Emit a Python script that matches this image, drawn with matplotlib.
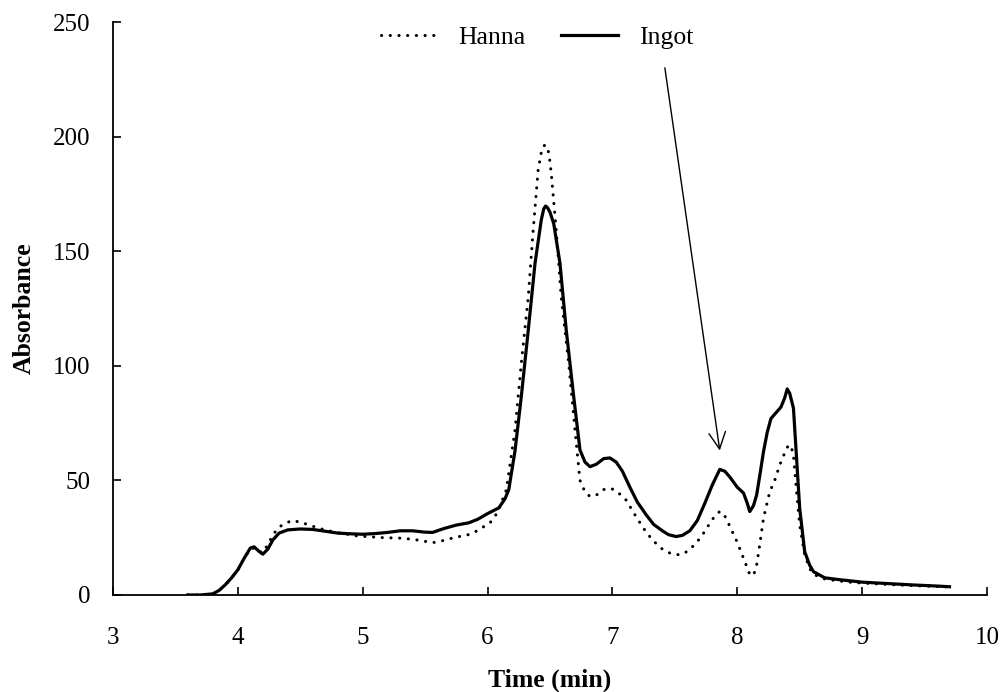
import matplotlib
matplotlib.use("Agg")
import matplotlib.pyplot as plt

# ---- data ----
time_hanna = [3.6, 3.7, 3.8, 3.85, 3.9, 3.95, 4.0, 4.05, 4.1, 4.13, 4.17, 4.2, 4.24, 4.29,
              4.34, 4.43, 4.5, 4.6, 4.7, 4.82, 4.95, 5.05, 5.17, 5.3, 5.4, 5.46, 5.56,
              5.65, 5.75, 5.83, 5.9, 5.96, 6.02, 6.08, 6.15, 6.22, 6.27, 6.326, 6.365,
              6.405, 6.43, 6.45, 6.465, 6.48, 6.495, 6.51, 6.55, 6.59, 6.65, 6.70, 6.74,
              6.78, 6.82, 6.87, 6.93, 6.99, 7.04, 7.11, 7.18, 7.25, 7.32, 7.4, 7.47, 7.54,
              7.6, 7.67, 7.73, 7.8, 7.86, 7.9, 7.94, 8.0, 8.05, 8.10, 8.13, 8.155, 8.18,
              8.21, 8.26, 8.3, 8.34, 8.38, 8.41, 8.43, 8.45, 8.475, 8.50, 8.54, 8.58, 8.61,
              8.7, 8.8, 8.9, 9.0, 9.2, 9.4, 9.6, 9.7]
abs_hanna = [0, 0, 0.5, 2, 4.5, 7.5, 11, 16, 20, 20.5, 19, 18.5, 22, 27,
             30, 32.5, 31.8, 30, 28.3, 27, 25.8, 25.4, 25, 24.8, 24.3, 23.8, 22.8,
             23.8, 25.3, 26, 27.5, 29.5, 31.5, 36, 45.8, 72, 101, 130, 159,
             185.4, 193, 196, 196.3, 195.5, 191, 184, 159, 130, 101, 72, 50,
             45, 43, 43.5, 46, 46.5, 45, 41.4, 35, 29, 24, 20, 18, 17.5,
             19, 22.5, 27, 33, 36.5, 34.5, 30, 23, 16, 9, 8.5, 13, 22,
             33.5, 45, 50, 56.7, 62, 65.4, 65, 61, 45, 30.5, 17.5, 11.5, 9,
             7, 6.2, 5.6, 5.2, 4.6, 4.1, 3.7, 3.5]

time_ingot = [3.6, 3.7, 3.8, 3.85, 3.9, 3.95, 4.0, 4.05, 4.1, 4.13, 4.17, 4.2, 4.24, 4.28,
              4.33, 4.4, 4.5, 4.6, 4.7, 4.8, 4.9, 5.0, 5.1, 5.2, 5.3, 5.4, 5.5, 5.56,
              5.65, 5.75, 5.85, 5.92, 6.0, 6.09, 6.14, 6.17, 6.22, 6.27, 6.326, 6.38,
              6.43, 6.45, 6.465, 6.48, 6.50, 6.53, 6.58, 6.63, 6.69, 6.74, 6.78, 6.82,
              6.87, 6.93, 6.98, 7.03, 7.08, 7.14, 7.2, 7.27, 7.33, 7.4, 7.45, 7.51, 7.56,
              7.62, 7.68, 7.74, 7.8, 7.86, 7.9, 7.94, 8.0, 8.05, 8.08, 8.10, 8.13, 8.155,
              8.18, 8.21, 8.24, 8.27, 8.31, 8.35, 8.38, 8.40, 8.42, 8.45, 8.475, 8.50,
              8.54, 8.58, 8.61, 8.7, 8.8, 8.9, 9.0, 9.2, 9.4, 9.6, 9.7]
abs_ingot = [0, 0, 0.5, 2, 4.5, 7.5, 11, 16, 20.5, 21, 19, 17.8, 20, 24,
             27, 28.4, 28.8, 28.6, 27.8, 27, 26.7, 26.5, 26.8, 27.3, 28, 28, 27.4, 27.3,
             29, 30.5, 31.5, 33, 35.5, 38, 42, 46, 63, 86.5, 115.6, 144.7,
             163.6, 168.5, 169.7, 169, 167, 162, 144.7, 115.6, 86.5, 63.3, 58, 56,
             57, 59.5, 59.8, 58, 54, 47, 40.5, 35, 30.8, 28, 26.3, 25.5, 26,
             28, 32.5, 40, 48, 54.8, 54, 51.5, 47, 44.5, 40, 36.4, 39, 43.6,
             52, 62.5, 71, 77, 79.5, 82, 86, 89.9, 88, 81.5, 59.6, 37.8,
             18.9, 13, 10.2, 7.5, 6.8, 6.2, 5.6, 5, 4.4, 3.9, 3.6]

series_labels = ["Hanna", "Ingot"]
x_ticks = [3, 4, 5, 6, 7, 8, 9, 10]
y_ticks = [0, 50, 100, 150, 200, 250]
arrow_tail = (7.42, 230)
arrow_head = (7.86, 63)

plt.rcParams['font.family'] = ['Liberation Serif', 'DejaVu Serif']

fig = plt.figure(figsize=(10.02, 6.92), dpi=100)
ax = fig.add_axes([0.1128, 0.1402, 0.8722, 0.8280])

ax.plot(time_hanna, abs_hanna, color='black', lw=2.2, linestyle=(0, (0.05, 2.8)),
        dash_capstyle='round', solid_joinstyle='round', label=series_labels[0])
ax.plot(time_ingot, abs_ingot, color='black', lw=2.3, linestyle='-',
        solid_joinstyle='round', label=series_labels[1])

ax.annotate('', xy=arrow_head, xytext=arrow_tail,
            arrowprops=dict(arrowstyle='->,head_length=0.6,head_width=0.3',
                            color='black', lw=1.0, mutation_scale=20,
                            shrinkA=0, shrinkB=0))

ax.set_xlim(3, 10)
ax.set_ylim(0, 250)
ax.set_xticks(x_ticks)
ax.set_yticks(y_ticks)
ax.tick_params(axis='both', direction='in', length=6, width=1.2,
               labelsize=18, colors='black')
ax.tick_params(axis='x', pad=23)
ax.tick_params(axis='y', pad=16)
for s in ['top', 'right']:
    ax.spines[s].set_visible(False)
for s in ['left', 'bottom']:
    ax.spines[s].set_linewidth(1.3)

ax.set_xlabel('Time (min)', fontsize=18.5, fontweight='bold')
ax.set_ylabel('Absorbance', fontsize=18.5, fontweight='bold')
ax.xaxis.set_label_coords(0.5, -0.129)
ax.yaxis.set_label_coords(-0.088, 0.5)

leg = ax.legend(loc='center', bbox_to_anchor=(0.536, 0.9465),
                bbox_transform=fig.transFigure, ncol=2, frameon=False,
                fontsize=18.5, handlelength=2.2, handletextpad=0.8,
                columnspacing=1.4)

fig.savefig('out.png', dpi=100)
